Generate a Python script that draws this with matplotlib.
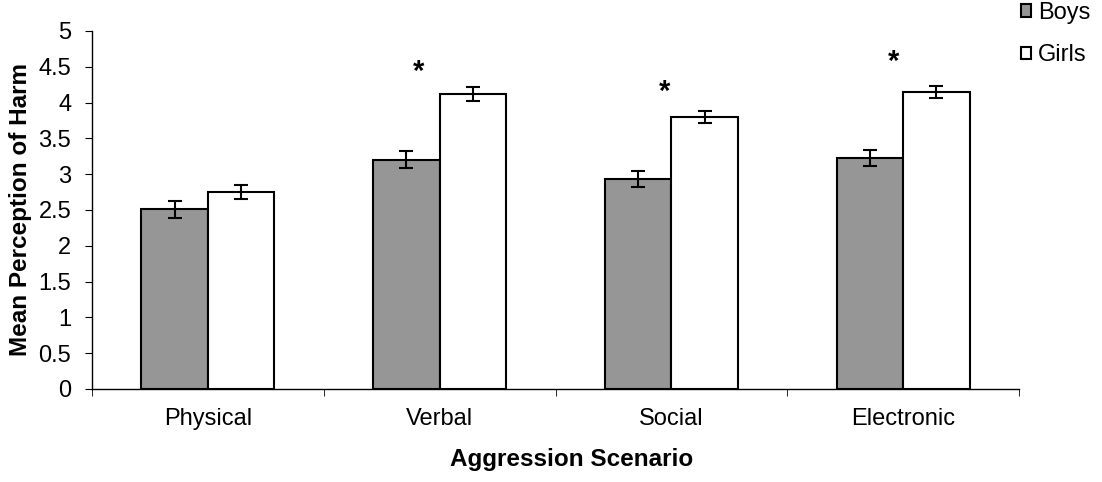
import numpy as np
import matplotlib.pyplot as plt

plt.rcParams['font.family'] = ['Liberation Sans', 'DejaVu Sans']

categories = ["Physical", "Verbal", "Social", "Electronic"]
boys = [2.51, 3.20, 2.93, 3.23]
girls = [2.75, 4.12, 3.80, 4.15]
boys_err = [0.12, 0.12, 0.11, 0.11]
girls_err = [0.10, 0.10, 0.08, 0.08]
# significance stars: (category index, x offset, height)
stars = [(1, -0.09, 4.43), (2, -0.03, 4.15), (3, -0.04, 4.57)]

fig = plt.figure(figsize=(11.02, 4.82), dpi=100)
ax = fig.add_axes([0.0835, 0.193, 0.8412, 0.7427])

x = np.arange(len(categories))
w = 0.287
ax.bar(x - w/2, boys, w, color="#969696", edgecolor="black", linewidth=1.5, label="Boys")
ax.bar(x + w/2, girls, w, color="white", edgecolor="black", linewidth=1.5, label="Girls")
ax.errorbar(x - w/2, boys, yerr=boys_err, fmt="none", ecolor="black", elinewidth=1.5, capsize=5, capthick=1.5)
ax.errorbar(x + w/2, girls, yerr=girls_err, fmt="none", ecolor="black", elinewidth=1.5, capsize=5, capthick=1.5)

for i, dx, h in stars:
    ax.text(i + dx, h, "*", ha="center", va="center", fontsize=21, fontweight="bold")

ax.set_xlim(-0.5, len(categories) - 0.5)
ax.set_ylim(0, 5)
ax.set_yticks(np.arange(0, 5.01, 0.5))
ax.set_yticklabels(["0", "0.5", "1", "1.5", "2", "2.5", "3", "3.5", "4", "4.5", "5"])
ax.set_xticks(x)
ax.set_xticklabels(categories)
ax.set_xticks(np.arange(-0.5, len(categories), 1), minor=True)
ax.tick_params(axis="x", which="major", length=0, labelsize=17, pad=14)
ax.tick_params(axis="x", which="minor", length=5, direction="out")
ax.tick_params(axis="y", length=5, labelsize=17, pad=10)

for s in ["top", "right"]:
    ax.spines[s].set_visible(False)
ax.spines["left"].set_linewidth(1)
ax.spines["bottom"].set_linewidth(1)

ax.set_xlabel("Aggression Scenario", fontsize=17.5, fontweight="bold")
ax.xaxis.set_label_coords(0.517, -0.198)
ax.xaxis.label.set_va("center")
ax.set_ylabel("Mean Perception of Harm", fontsize=17.5, fontweight="bold")
ax.yaxis.set_label_coords(-0.077, 0.5)
ax.yaxis.label.set_va("center")

fig.legend(loc="upper left", bbox_to_anchor=(1021/1102, 1 - 2/482), frameon=False, fontsize=17,
           borderpad=0, borderaxespad=0,
           handlelength=0.42, handleheight=0.42, handletextpad=0.3, labelspacing=0.85)

fig.savefig("out.png", dpi=100)
